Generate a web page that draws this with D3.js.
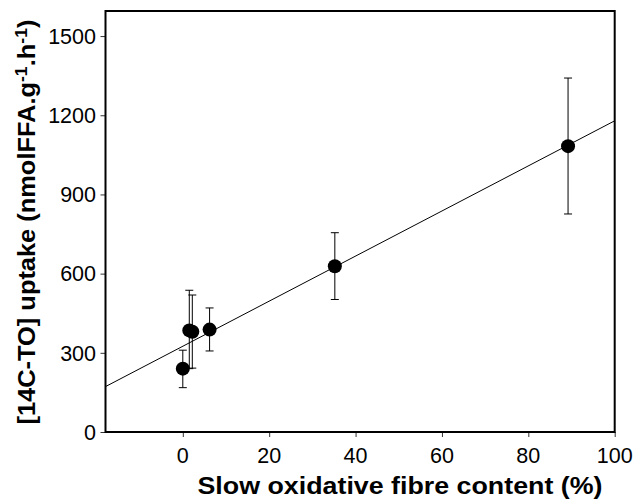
<!DOCTYPE html>
<html><head><meta charset="utf-8">
<script src="https://cdn.jsdelivr.net/npm/d3@7"></script>
<style>body{margin:0;background:#fff}svg{display:block}text{font-family:"Liberation Sans",Arial,sans-serif}</style>
</head><body>
<svg id="c" width="633" height="499"></svg>
<script>
const fibre = [0, 1.5, 2.2, 6.2, 35.2, 89.2];
const uptake = [240, 385, 380, 388, 628, 1083];
const errLow = [168, 240, 242, 307, 502, 826];
const errHigh = [310, 537, 519, 470, 755, 1341];
const lineX = [-17.9, 100];
const lineY = [172, 1179];
const xTicks = [0, 20, 40, 60, 80, 100];
const yTicks = [0, 300, 600, 900, 1200, 1500];

const svg = d3.select("#c");
const L = 105.5, R = 614.7, T = 11, B = 432;
const x = d3.scaleLinear().domain([-17.9, 100]).range([L, R]);
const y = d3.scaleLinear().domain([0, 1595]).range([B, T]);

const xa = svg.append("g").attr("transform", `translate(0,${B})`)
  .call(d3.axisBottom(x).tickValues(xTicks).tickSize(5).tickFormat("").tickSizeOuter(0));
const ya = svg.append("g").attr("transform", `translate(${L},0)`)
  .call(d3.axisLeft(y).tickValues(yTicks).tickSize(5).tickFormat("").tickSizeOuter(0));
[xa, ya].forEach(a => {
  a.select(".domain").remove();
  a.selectAll(".tick line").attr("stroke", "#333").attr("stroke-width", 1);
});

const FS = 21.5;
svg.append("g").selectAll("text").data(xTicks).enter().append("text")
  .attr("x", d => x(d)).attr("y", 463)
  .attr("text-anchor", "middle").attr("font-size", FS).text(d => d);
svg.append("g").selectAll("text").data(yTicks).enter().append("text")
  .attr("x", 96).attr("y", d => y(d) + 0.716 * FS / 2)
  .attr("text-anchor", "end").attr("font-size", FS).text(d => d);

svg.append("rect").attr("x", L).attr("y", T).attr("width", R - L).attr("height", B - T)
  .attr("fill", "none").attr("stroke", "#000").attr("stroke-width", 2);

svg.append("clipPath").attr("id", "cp").append("rect")
  .attr("x", L).attr("y", T).attr("width", R - L).attr("height", B - T);

svg.append("line").attr("clip-path", "url(#cp)")
  .attr("x1", x(lineX[0])).attr("y1", y(lineY[0]))
  .attr("x2", x(lineX[1])).attr("y2", y(lineY[1]))
  .attr("stroke", "#000").attr("stroke-width", 1);

const data = fibre.map((f, i) => ({f, u: uptake[i], lo: errLow[i], hi: errHigh[i]}));
const eb = svg.append("g").attr("stroke", "#000").attr("stroke-width", 1);
data.forEach(d => {
  eb.append("line").attr("x1", x(d.f)).attr("x2", x(d.f)).attr("y1", y(d.lo)).attr("y2", y(d.hi));
  [d.lo, d.hi].forEach(v => eb.append("line").attr("x1", x(d.f) - 4).attr("x2", x(d.f) + 4)
    .attr("y1", y(v)).attr("y2", y(v)));
});

svg.append("g").selectAll("circle").data(data).enter().append("circle")
  .attr("cx", d => x(d.f)).attr("cy", d => y(d.u)).attr("r", 7).attr("fill", "#000");

// x title
svg.append("text").attr("x", 400).attr("y", 494)
  .attr("text-anchor", "middle").attr("font-size", 23).attr("font-weight", "bold")
  .attr("textLength", 405).attr("lengthAdjust", "spacingAndGlyphs")
  .text("Slow oxidative fibre content (%)");

// y title
const yt = svg.append("text").attr("transform", "translate(35,222) rotate(-90)")
  .attr("text-anchor", "middle").attr("font-size", 23).attr("font-weight", "bold")
  .attr("textLength", 405).attr("lengthAdjust", "spacingAndGlyphs");
yt.append("tspan").text("[14C-TO] uptake (nmolFFA.g");
yt.append("tspan").attr("dy", -8).attr("font-size", 16).text("-1");
yt.append("tspan").attr("dy", 8).text(".h");
yt.append("tspan").attr("dy", -8).attr("font-size", 16).text("-1");
yt.append("tspan").attr("dy", 8).text(")");
</script>
</body></html>
